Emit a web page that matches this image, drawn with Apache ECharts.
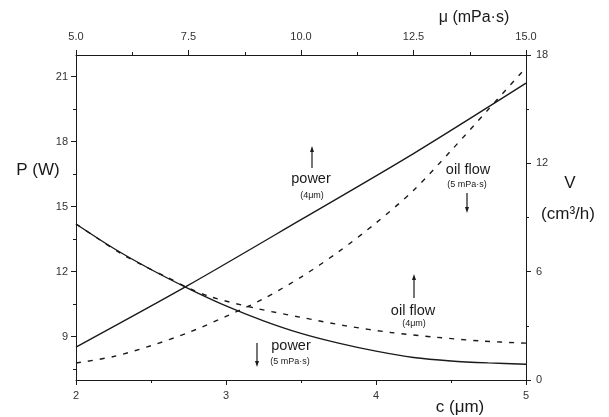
<!DOCTYPE html>
<html>
<head>
<meta charset="utf-8">
<script src="https://cdn.jsdelivr.net/npm/echarts@6/dist/echarts.min.js"></script>
<style>
html,body{margin:0;padding:0;background:#fff;}
#chart{width:609px;height:417px;}
</style>
</head>
<body>
<div id="chart"></div>
<script>
// ---- data ----
const cValues = [2, 2.25, 2.5, 2.75, 3, 3.25, 3.5, 3.75, 4, 4.25, 4.5, 4.75, 5];
const powerVsC = [14.2, 13.08, 12.1, 11.22, 10.42, 9.73, 9.15, 8.7, 8.33, 8.04, 7.88, 7.79, 7.73];
const oilVsC = [0.94, 1.3, 1.9, 2.63, 3.52, 4.5, 5.7, 7.1, 8.7, 10.5, 12.7, 15.0, 17.3];
const muPowerValues = [5, 7.5, 10, 12.5, 15];
const powerVsMu = [8.52, 11.38, 14.4, 17.45, 20.7];
const muOilValues = [5, 5.5, 6, 6.5, 7, 7.5, 8, 9, 10, 11, 12, 13, 14, 15];
const oilVsMu = [8.64, 7.81, 7.0, 6.33, 5.72, 5.1, 4.6, 3.97, 3.47, 3.0, 2.63, 2.37, 2.16, 2.04];
const leftTicks = [9, 12, 15, 18, 21];
const leftMinorTicks = [7.5, 10.5, 13.5, 16.5, 19.5];

const pair = (xs, ys) => xs.map((x, i) => [x, ys[i]]);

const FONT = '"Liberation Sans", Arial, sans-serif';
const INK = '#1a1a1a';
const LBL = '#333';

const chart = echarts.init(document.getElementById('chart'), null, {renderer: 'canvas'});

const axisLineStyle = {show: true, lineStyle: {color: INK, width: 1}};
const labelStyle = {color: LBL, fontSize: 11, fontFamily: FONT};

function arrow(x, y1, y2) {
  const dir = y2 > y1 ? 1 : -1;
  return {
    type: 'group',
    children: [
      {type: 'line', shape: {x1: x, y1: y1, x2: x, y2: y2 - dir * 4}, style: {stroke: INK, lineWidth: 1.2}},
      {type: 'polygon', shape: {points: [[x - 2, y2 - dir * 6], [x + 2, y2 - dir * 6], [x, y2]]}, style: {fill: INK}}
    ]
  };
}
function txt(x, y, s, size) {
  return {type: 'text', x: x, y: y, style: {text: s, font: size + 'px ' + FONT, fill: INK, align: 'center', verticalAlign: 'middle'}};
}

const option = {
  animation: false,
  backgroundColor: '#fff',
  grid: {left: 76, right: 83, top: 55, bottom: 37, containLabel: false},
  xAxis: [
    {
      type: 'value', position: 'bottom', min: 2, max: 5, interval: 1,
      axisLine: axisLineStyle,
      axisTick: {show: true, length: 5, lineStyle: {color: INK}},
      minorTick: {show: true, splitNumber: 2, length: 3, lineStyle: {color: INK}},
      axisLabel: Object.assign({margin: 10}, labelStyle),
      splitLine: {show: false}
    },
    {
      type: 'value', position: 'top', min: 5, max: 15, interval: 2.5,
      axisLine: axisLineStyle,
      axisTick: {show: true, length: 5, lineStyle: {color: INK}},
      minorTick: {show: true, splitNumber: 2, length: 3, lineStyle: {color: INK}},
      axisLabel: Object.assign({margin: 13, formatter: v => v.toFixed(1)}, labelStyle),
      splitLine: {show: false}
    }
  ],
  yAxis: [
    {
      type: 'value', position: 'left', min: 7, max: 22,
      axisLine: axisLineStyle,
      axisTick: {show: true, length: 5, customValues: leftTicks, lineStyle: {color: INK}},
      axisLabel: Object.assign({margin: 8, customValues: leftTicks}, labelStyle),
      splitLine: {show: false}
    },
    {
      type: 'value', position: 'right', min: 0, max: 18, interval: 6,
      axisLine: axisLineStyle,
      axisTick: {show: true, length: 5, lineStyle: {color: INK}},
      minorTick: {show: true, splitNumber: 2, length: 3, lineStyle: {color: INK}},
      axisLabel: Object.assign({margin: 10}, labelStyle),
      splitLine: {show: false}
    },
    {
      type: 'value', position: 'left', min: 7, max: 22,
      axisLine: {show: false},
      axisTick: {show: true, length: 3, customValues: leftMinorTicks, lineStyle: {color: INK}},
      axisLabel: {show: false},
      splitLine: {show: false}
    }
  ],
  series: [
    {
      name: 'power (4μm)', type: 'line', xAxisIndex: 1, yAxisIndex: 0,
      data: pair(muPowerValues, powerVsMu), smooth: 0.3, symbol: 'none',
      lineStyle: {color: INK, width: 1.4}
    },
    {
      name: 'power (5 mPa·s)', type: 'line', xAxisIndex: 0, yAxisIndex: 0,
      data: pair(cValues, powerVsC), smooth: 0.3, symbol: 'none',
      lineStyle: {color: INK, width: 1.4}
    },
    {
      name: 'oil flow (5 mPa·s)', type: 'line', xAxisIndex: 0, yAxisIndex: 1,
      data: pair(cValues, oilVsC), smooth: 0.3, symbol: 'none',
      lineStyle: {color: INK, width: 1.4, type: [5, 7]}
    },
    {
      name: 'oil flow (4μm)', type: 'line', xAxisIndex: 1, yAxisIndex: 1,
      data: pair(muOilValues, oilVsMu), smooth: 0.3, symbol: 'none',
      lineStyle: {color: INK, width: 1.4, type: [5, 7]}
    }
  ],
  graphic: [
    txt(474, 18, 'μ (mPa·s)', 16),
    txt(460, 407, 'c (μm)', 17),
    txt(38, 170, 'P (W)', 17),
    txt(570, 183, 'V', 17),
    txt(568, 214, '(cm³/h)', 17),
    arrow(312, 168, 146),
    txt(311, 179, 'power', 14.5),
    txt(312, 196, '(4μm)', 9),
    txt(468, 170, 'oil flow', 14.5),
    txt(467, 185, '(5 mPa·s)', 9),
    arrow(467, 193, 213),
    arrow(414, 298, 274),
    txt(413, 311, 'oil flow', 14.5),
    txt(414, 324, '(4μm)', 9),
    arrow(257, 343, 367),
    txt(291, 346, 'power', 14.5),
    txt(290, 362, '(5 mPa·s)', 9)
  ]
};
chart.setOption(option);
</script>
</body>
</html>
